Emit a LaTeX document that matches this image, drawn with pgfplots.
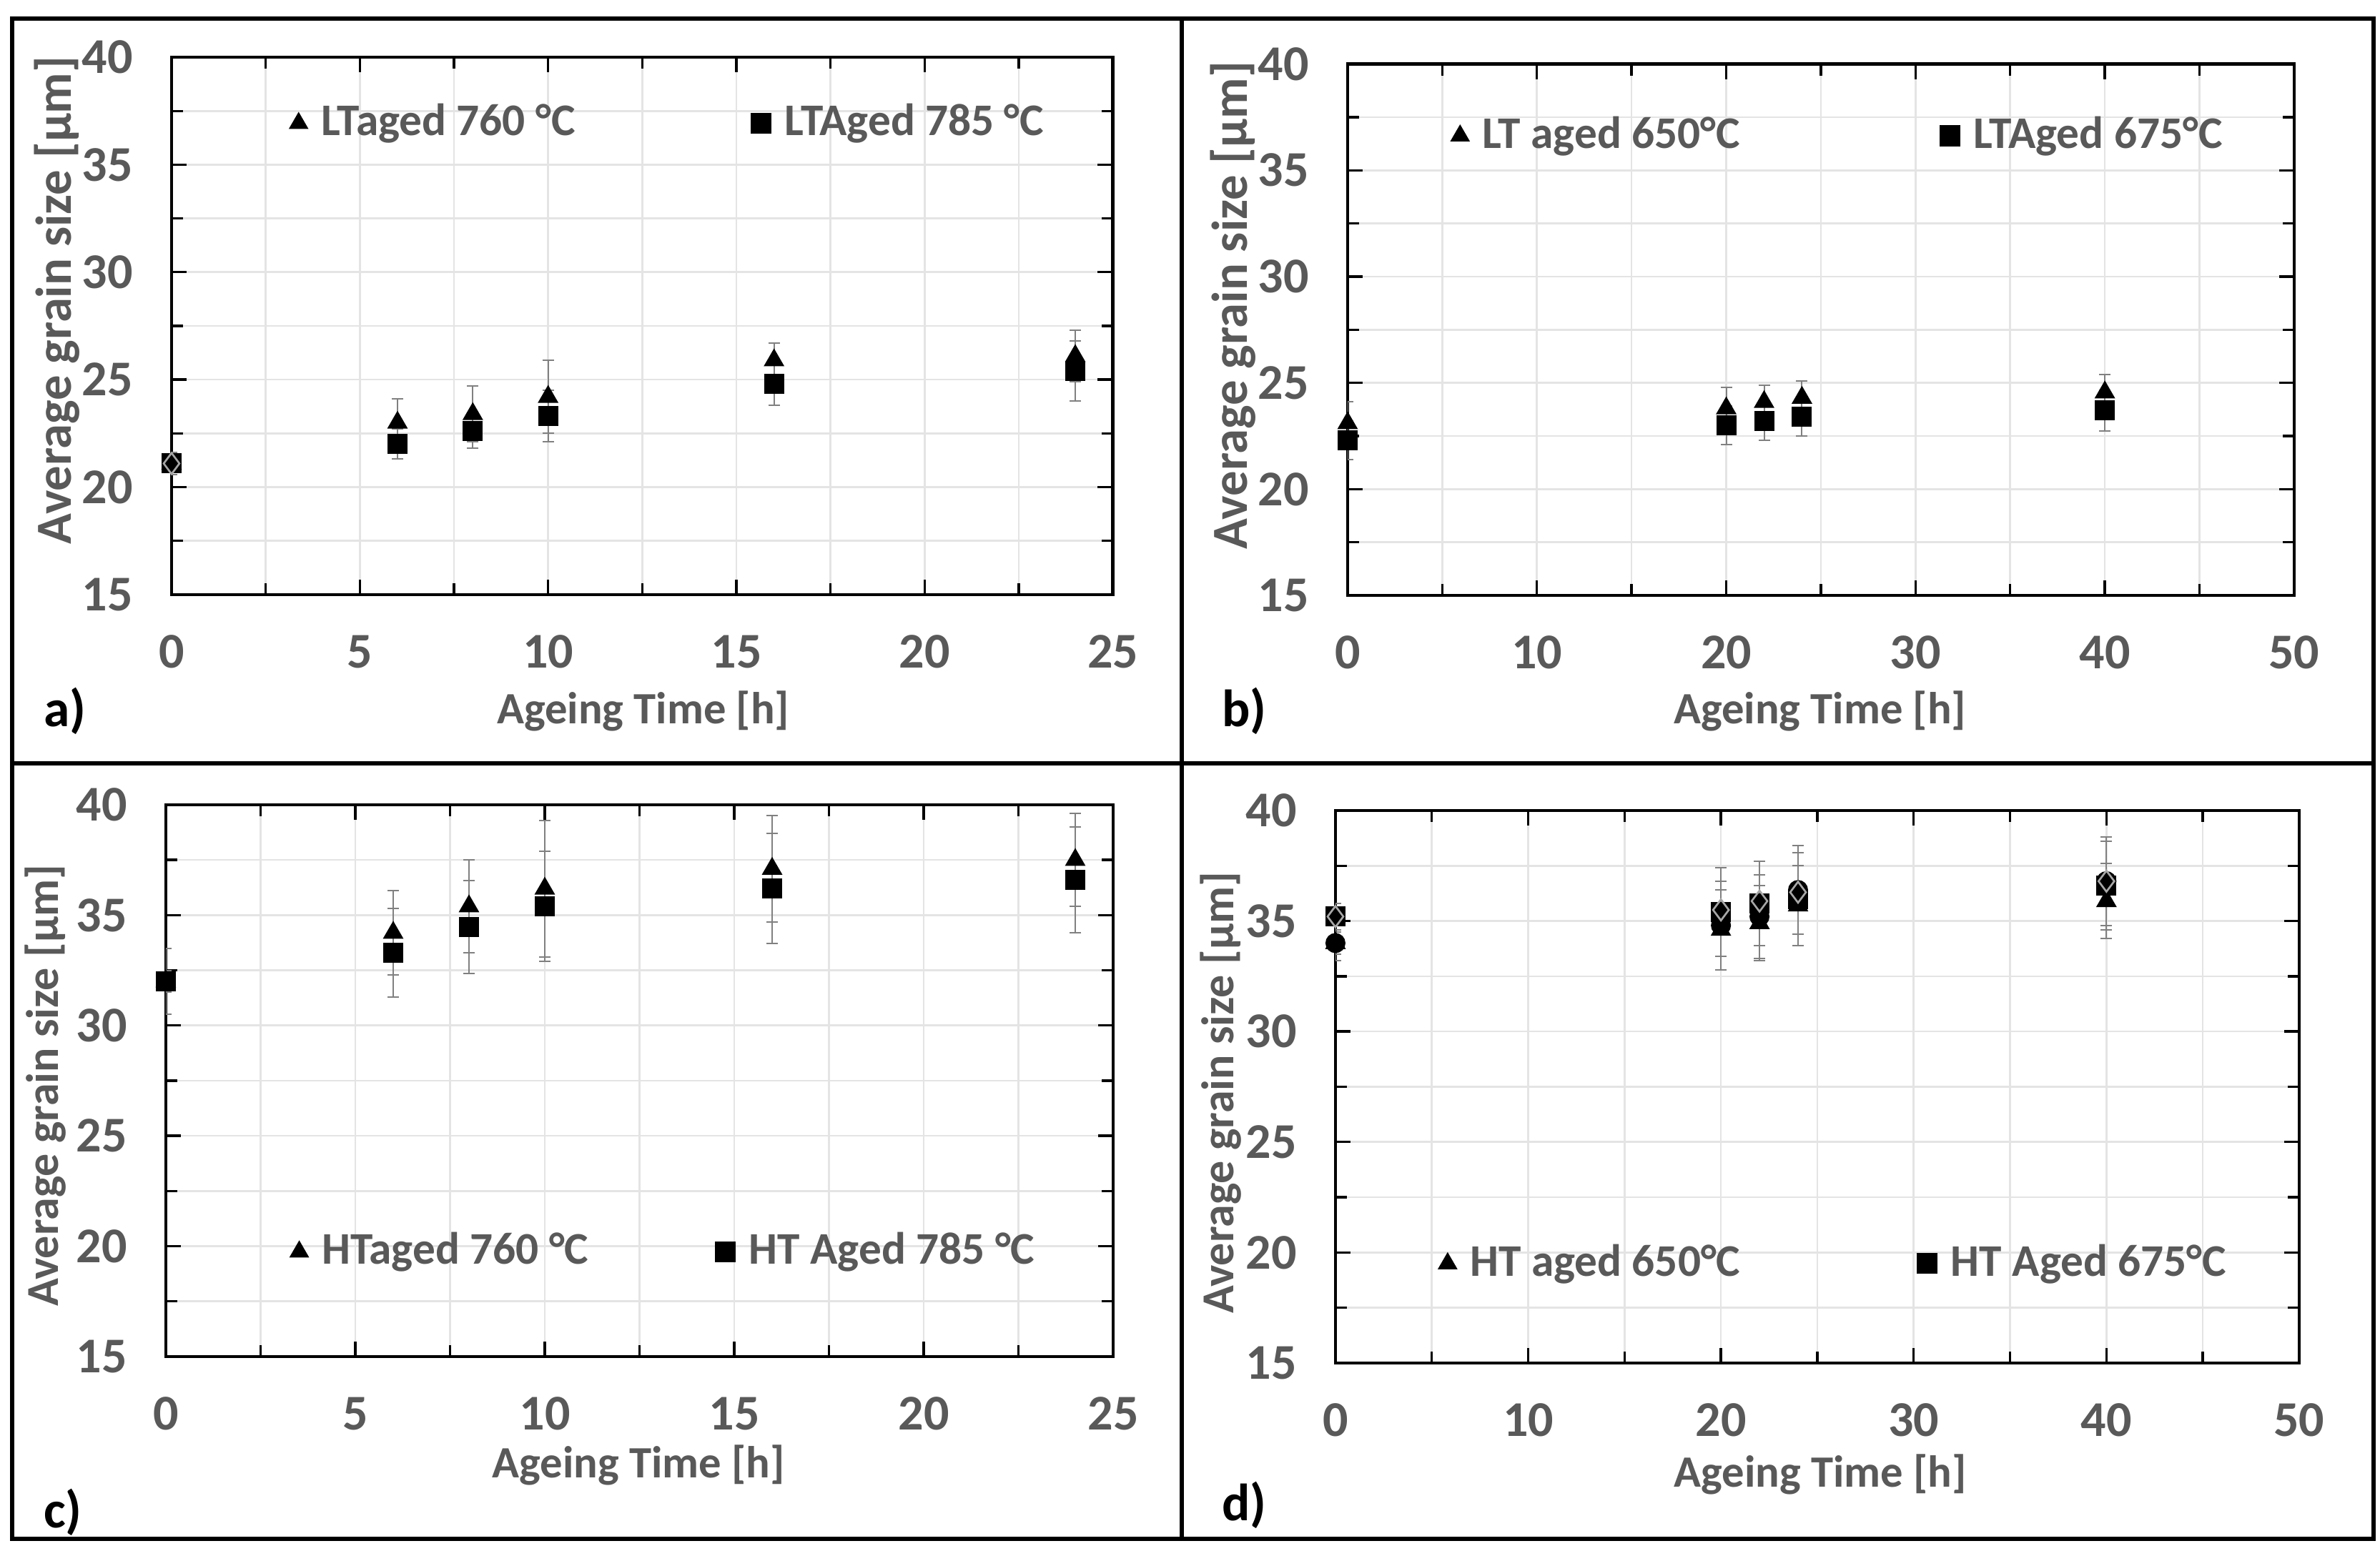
\documentclass[border=0pt]{standalone}
\usepackage{fontspec}
\setmainfont{Carlito}
\usepackage{pgfplots}
\pgfplotsset{compat=1.18}
\definecolor{txtgrey}{HTML}{595959}
\definecolor{gridgrey}{HTML}{E4E4E4}

% one panel of the figure
\pgfplotsset{
  panel/.style={
    scale only axis, anchor=south west,
    axis line style={black, line width=0.7pt},
    grid=both,
    major grid style={gridgrey, line width=0.4pt},
    minor grid style={gridgrey, line width=0.4pt},
    tick align=inside,
    major tick length=3.2pt, minor tick length=2.4pt,
    every tick/.style={black, line width=0.5pt},
    ymin=15, ymax=40, ytick={15,20,...,40}, minor y tick num=1,
    /pgf/number format/assume math mode=true,
    every tick label/.append style={font=\bfseries\fontsize{10.5}{12}\selectfont, text=txtgrey},
    xticklabel shift=5pt,
    yticklabel style={xshift=-4.6pt},
    legend style={draw=none, fill=none, font=\bfseries\fontsize{9.5}{11}\selectfont,
      text=txtgrey, legend columns=2, anchor=west,
      /tikz/every odd column/.append style={column sep=1pt}},
    legend image code/.code={\draw[mark repeat=1,##1, mark size=2pt] plot coordinates {(0.1cm,0cm)};},
  },
  labs/.style n args={4}{
    every axis x label/.append style={at={(axis description cs:#1,#2)}, anchor=center,
      font=\bfseries\fontsize{9.4}{11}\selectfont, text=txtgrey},
    every axis y label/.append style={at={(axis description cs:#3,#4)}, anchor=center,
      text=txtgrey}},
  ebar/.style={error bars/y dir=both, error bars/y explicit,
    error bars/error bar style={gray, line width=0.3pt},
    error bars/error mark options={gray, rotate=90, mark size=1.2pt, line width=0.3pt}},
  tri/.style={only marks, mark=triangle*, mark size=2.1pt, black, mark options={fill=black}, ebar},
  sqr/.style={only marks, mark=square*, mark size=1.9pt, black, mark options={fill=black}, ebar},
  circ/.style={only marks, mark=*, mark size=1.9pt, black, mark options={fill=black}, ebar},
  dia/.style={only marks, mark=diamond, mark size=2.2pt, mark options={draw=gray!70, line width=0.4pt}},
}

\begin{document}
\begin{tikzpicture}
\useasboundingbox (0,0) rectangle (499.35pt,-325.5pt);

% ---------- a) ----------
\begin{axis}[panel, at={(240*0.15pt,-832*0.15pt)},
  width=197.5pt, height=112.8pt,
  xmin=0, xmax=25, xtick={0,5,...,25}, minor x tick num=1,
  labs={0.501}{-0.217}{-0.122}{0.548},
  xlabel={Ageing Time [h]},
  ylabel={\bfseries\fontsize{10.6}{12}\selectfont Average grain size [µm]},
  legend style={at={(0.11,0.877)}, /tikz/every even column/.append style={column sep=35pt}}]
\addplot+[tri] coordinates {(0,21.1) +- (0,0.5) (6,23.0) +- (0,1.1) (8,23.4) +- (0,1.3)
  (10,24.2) +- (0,1.7) (16,25.9) +- (0,0.8) (24,26.1) +- (0,1.2)};
\addplot+[sqr] coordinates {(0,21.1) +- (0,0.3) (6,22.0) +- (0,0.7) (8,22.6) +- (0,0.8)
  (10,23.3) +- (0,1.2) (16,24.8) +- (0,1.0) (24,25.4) +- (0,1.4)};
\addplot+[forget plot, dia] coordinates {(0,21.1)};
\legend{LTaged 760 °C, LTAged 785 °C}
\end{axis}

% ---------- b) ----------
\begin{axis}[panel, at={(1885*0.15pt,-833*0.15pt)},
  width=198.6pt, height=111.5pt,
  xmin=0, xmax=50, xtick={0,10,...,50}, minor x tick num=1,
  labs={0.499}{-0.218}{-0.121}{0.546},
  xlabel={Ageing Time [h]},
  ylabel={\bfseries\fontsize{10.6}{12}\selectfont Average grain size [µm]},
  legend style={at={(0.094,0.865)}, /tikz/every even column/.append style={column sep=40pt}}]
\addplot+[tri] coordinates {(0,23.1) +- (0,1.0) (20,23.8) +- (0,1.0) (22,24.1) +- (0,0.8)
  (24,24.3) +- (0,0.8) (40,24.55) +- (0,0.85)};
\addplot+[sqr] coordinates {(0,22.3) +- (0,0.9) (20,23.0) +- (0,0.9) (22,23.2) +- (0,0.9)
  (24,23.4) +- (0,0.9) (40,23.7) +- (0,0.95)};
\legend{LT aged 650°C, LTAged 675°C}
\end{axis}

% ---------- c) ----------
\begin{axis}[panel, at={(232*0.15pt,-1898*0.15pt)},
  width=198.75pt, height=115.8pt,
  xmin=0, xmax=25, xtick={0,5,...,25}, minor x tick num=1,
  labs={0.499}{-0.197}{-0.127}{0.491},
  xlabel={Ageing Time [h]},
  ylabel={\bfseries\fontsize{9.6}{11}\selectfont Average grain size [µm]},
  legend style={at={(0.116,0.19)}, /tikz/every even column/.append style={column sep=24.7pt}}]
\addplot+[tri] coordinates {(0,32.0) +- (0,1.5) (6,34.2) +- (0,1.9) (8,35.4) +- (0,2.1)
  (10,36.2) +- (0,3.1) (16,37.1) +- (0,2.4) (24,37.5) +- (0,2.1)};
\addplot+[sqr] coordinates {(0,32.0) +- (0,0.5) (6,33.3) +- (0,2.0) (8,34.45) +- (0,2.1)
  (10,35.4) +- (0,2.5) (16,36.2) +- (0,2.5) (24,36.6) +- (0,2.4)};
\legend{HTaged 760 °C, HT Aged 785 °C}
\end{axis}

% ---------- d) ----------
\begin{axis}[panel, at={(1868*0.15pt,-1907*0.15pt)},
  width=202.2pt, height=115.95pt,
  xmin=0, xmax=50, xtick={0,10,...,50}, minor x tick num=1,
  labs={0.503}{-0.202}{-0.119}{0.489},
  xlabel={Ageing Time [h]},
  ylabel={\bfseries\fontsize{9.6}{11}\selectfont Average grain size [µm]},
  legend style={at={(0.092,0.18)}, /tikz/every even column/.append style={column sep=35.2pt}}]
\addplot+[tri] coordinates {(0,34.0) +- (0,0.8) (20,34.6) +- (0,1.8) (22,34.9) +- (0,1.7)
  (24,35.7) +- (0,1.8) (40,35.9) +- (0,1.7)};
\addplot+[sqr] coordinates {(0,35.2) +- (0,0.6) (20,35.4) +- (0,2.0) (22,35.8) +- (0,1.9)
  (24,36.0) +- (0,2.1) (40,36.6) +- (0,2.0)};
\addplot+[forget plot, circ] coordinates {(0,34.0) +- (0,0.5) (20,34.8) +- (0,2.0) (22,35.2) +- (0,1.9)
  (24,36.4) +- (0,2.0) (40,36.8) +- (0,2.0)};
\addplot+[forget plot, dia] coordinates {(0,35.2) (20,35.5) (22,35.9) (24,36.3) (40,36.8)};
\legend{HT aged 650°C, HT Aged 675°C}
\end{axis}

% panel frames and letters
\draw[line width=0.9pt] (17*0.15pt,-26*0.15pt) rectangle (3320*0.15pt,-2153*0.15pt);
\draw[line width=0.9pt] (1653*0.15pt,-26*0.15pt) -- (1653*0.15pt,-2153*0.15pt);
\draw[line width=0.9pt] (17*0.15pt,-1068*0.15pt) -- (3320*0.15pt,-1068*0.15pt);
\begin{scope}[every node/.style={font=\bfseries\fontsize{11}{13}\selectfont, anchor=west, inner sep=0pt}]
\node at (60*0.15pt,-995*0.15pt) {a)};
\node at (1708*0.15pt,-995*0.15pt) {b)};
\node at (60*0.15pt,-2116*0.15pt) {c)};
\node at (1708*0.15pt,-2106*0.15pt) {d)};
\end{scope}
\end{tikzpicture}
\end{document}
